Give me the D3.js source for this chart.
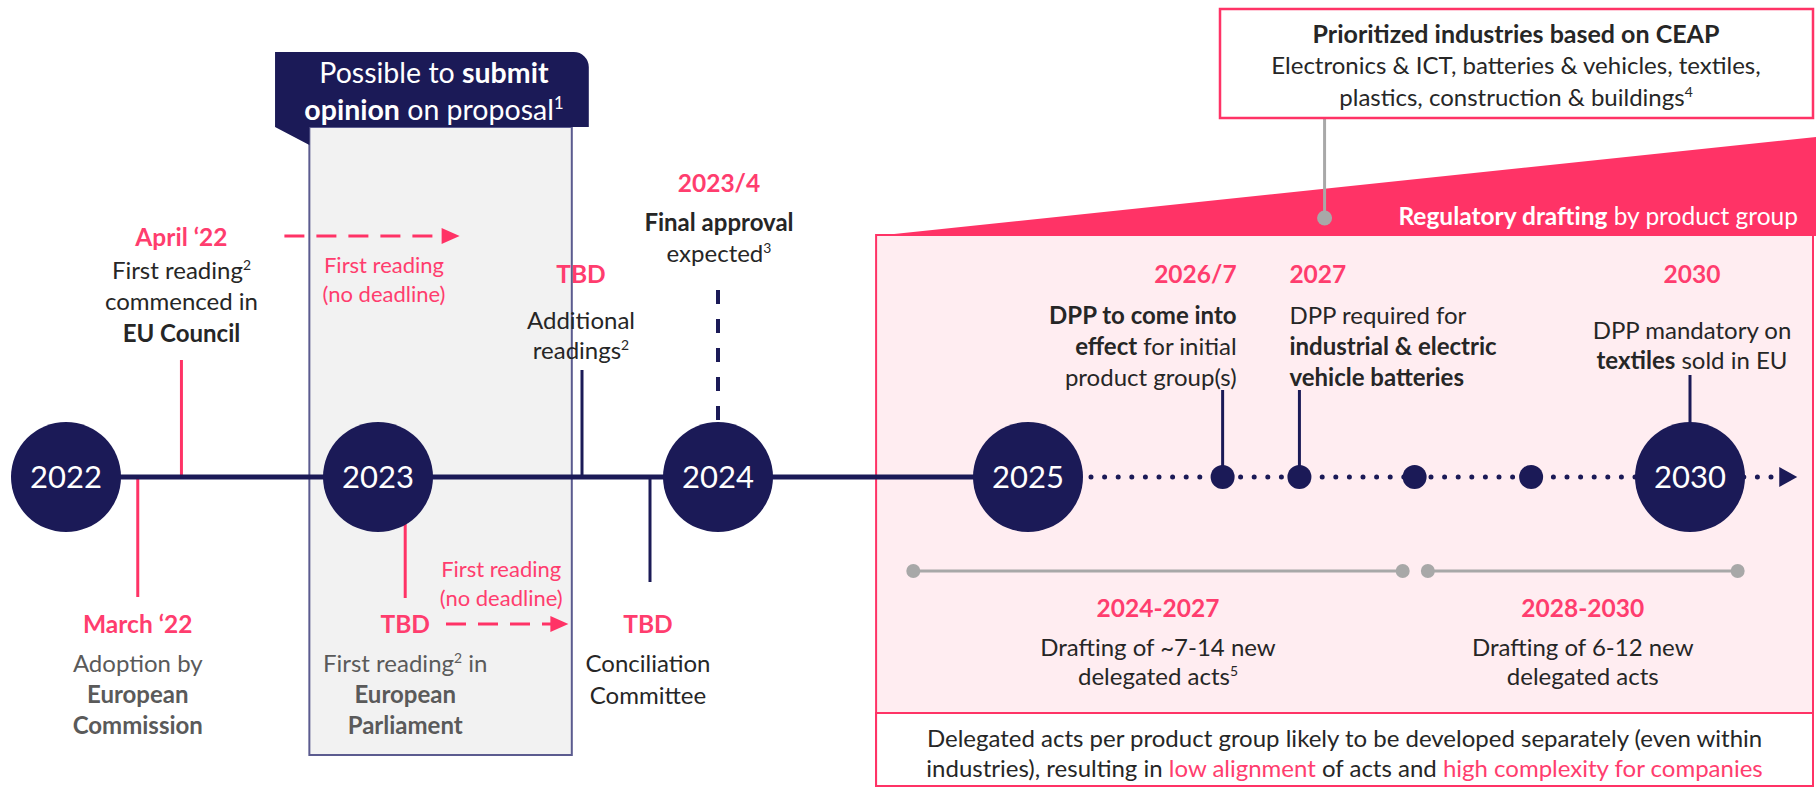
<!DOCTYPE html>
<html><head><meta charset="utf-8">
<script src="https://cdn.jsdelivr.net/npm/d3@7"></script>
<style>
body{margin:0;background:#fff;}
svg{display:block;font-family:Lato,'Open Sans',sans-serif;}
</style>
</head><body>
<svg id="chart" width="1816" height="787"></svg>
<script>
// ---------------- DATA ----------------
const yearTimes  = [2022, 2023, 2024, 2025, 2030];
const yearLabels = ["2022", "2023", "2024", "2025", "2030"];

const milestoneTimes = [2022.23, 2022.37, 2023.08, 2023.60, 2023.80, 2024.0, 2026.47, 2027.05, 2030];
const milestoneDates = ["March ‘22", "April ‘22", "TBD", "TBD", "TBD", "2023/4", "2026/7", "2027", "2030"];
const milestoneText = [
  ["Adoption by", "**European**", "**Commission**"],
  ["First reading^2", "commenced in", "**EU Council**"],
  ["First reading^2 in", "**European**", "**Parliament**"],
  ["Additional", "readings^2"],
  ["Conciliation", "Committee"],
  ["**Final approval**", "expected^3"],
  ["**DPP to come into**", "**effect** for initial", "product group(s)"],
  ["DPP required for", "**industrial & electric**", "**vehicle batteries**"],
  ["DPP mandatory on", "**textiles** sold in EU"]
];

const smallDotTimes = [2026.47, 2027.05, 2027.92, 2028.80];

const readingArrows = [[2022.70, 2023.24], [2023.20, 2023.56]];
const readingArrowText = ["First reading", "(no deadline)"];

const opinionWindow = [2022.78, 2023.57];
const opinionHeader = [2022.67, 2023.62];
const opinionText = ["Possible to **submit**", "**opinion** on proposal^1"];

const draftingStart = 2024.51;
const timelineEnd = 2030.81;
const draftingTitle = "**Regulatory drafting** by product group";

const draftingRanges = [[2024.63, 2027.83], [2028.02, 2030.36]];
const rangeLabels = ["2024-2027", "2028-2030"];
const rangeText = [["Drafting of ~7-14 new", "delegated acts^5"], ["Drafting of 6-12 new", "delegated acts"]];

const ceapText = ["**Prioritized industries based on CEAP**", "Electronics & ICT, batteries & vehicles, textiles,", "plastics, construction & buildings^4"];
const ceapLinkTime = 2027.24;

const noteText = ["Delegated acts per product group likely to be developed separately (even within",
  "industries), resulting in {low alignment} of acts and {high complexity for companies}"];

// ---------------- STYLE / LAYOUT ----------------
const NAVY = "#1b1a57", PINK = "#ff3366", PINKT = "#ff3d6e", LPINK = "#ffedf1",
      TXT = "#262626", GTXT = "#5a5a5a", GLINE = "#a8a8a8", GBOX = "#f2f2f2";
const W = 1816, AXIS_Y = 477, R = 55, r = 12;
const BODY = 24, TITLE = 24.5, SMALL = 22;

const x = d3.scaleLinear().domain(yearTimes).range([66, 378, 718, 1028, 1690]);

// per-milestone layout: stem [y1,y2], colour, dashed, anchor, dx, titleY, bodyY, line height, body colour
const mLayout = [
  {s:[AXIS_Y, 597], c:PINK, a:"middle", dx:0, ty:624, by:663, lh:31, bc:GTXT},
  {s:[360, AXIS_Y], c:PINK, a:"middle", dx:0, ty:237, by:270, lh:31.5, bc:TXT},
  {s:[AXIS_Y, 598], c:PINK, a:"middle", dx:0, ty:624, by:663, lh:31, bc:GTXT},
  {s:[370, AXIS_Y], c:NAVY, a:"middle", dx:-1, ty:274, by:320, lh:30, bc:TXT},
  {s:[AXIS_Y, 582], c:NAVY, a:"middle", dx:-2, ty:624, by:663, lh:32, bc:TXT},
  {s:[290, AXIS_Y], c:NAVY, dash:"14 15", a:"middle", dx:1, ty:183, by:222, lh:31, bc:TXT},
  {s:[390, AXIS_Y], c:NAVY, a:"end", dx:14, ty:274, by:315, lh:31, bc:TXT},
  {s:[390, AXIS_Y], c:NAVY, a:"start", dx:-10, ty:274, by:315, lh:31, bc:TXT},
  {s:[375, AXIS_Y], c:NAVY, a:"middle", dx:2, ty:274, by:330, lh:30, bc:TXT}
];

const svg = d3.select("#chart");

// rich text: **bold**, {pink}, ^n superscript
function rich(g, str, o) {
  const t = g.append("text").attr("x", o.x).attr("y", o.y)
    .attr("text-anchor", o.a || "middle").attr("font-size", o.size)
    .attr("fill", o.fill).attr("font-weight", o.w || 400);
  const parts = str.split(/(\*\*[^*]+\*\*|\{[^}]+\}|\^\d)/).filter(s => s);
  let lift = 0;
  parts.forEach(p => {
    const ts = t.append("tspan");
    if (lift) { ts.attr("dy", lift); lift = 0; }
    if (p.startsWith("**")) ts.text(p.slice(2, -2)).attr("font-weight", 700);
    else if (p.startsWith("{")) ts.text(p.slice(1, -1)).attr("fill", o.pink || PINKT);
    else if (p.startsWith("^")) {
      const up = o.size * 0.38;
      ts.text(p.slice(1)).attr("font-size", o.size * 0.58).attr("dy", -up);
      lift = up;
    } else ts.text(p);
  });
  return t;
}
const base = (cy, s) => cy + s * 0.36;

// ---------------- DRAFTING PANEL ----------------
const px0 = x(draftingStart);
const panel = svg.append("g");
panel.append("rect").attr("x", px0).attr("y", 235).attr("width", 1813 - px0).attr("height", 551)
  .attr("fill", LPINK).attr("stroke", PINK).attr("stroke-width", 2);
panel.append("rect").attr("x", px0).attr("y", 713).attr("width", 1813 - px0).attr("height", 73)
  .attr("fill", "#fff").attr("stroke", PINK).attr("stroke-width", 2);
panel.append("path").attr("d", `M${px0 - 1},236 L${W},137 L${W},236 Z`).attr("fill", PINK);
rich(panel, draftingTitle, {x: 1798, y: base(216, 24.5), a: "end", size: 24.5, fill: "#fff"});
noteText.forEach((l, i) => rich(panel, l, {x: (px0 + 1813) / 2, y: base(738 + i * 30.5, BODY), size: BODY, fill: TXT}));

// ---------------- CEAP BOX ----------------
const ceap = svg.append("g");
ceap.append("line").attr("x1", x(ceapLinkTime)).attr("x2", x(ceapLinkTime)).attr("y1", 118).attr("y2", 218)
  .attr("stroke", GLINE).attr("stroke-width", 3);
ceap.append("circle").attr("cx", x(ceapLinkTime)).attr("cy", 218).attr("r", 7.5).attr("fill", GLINE);
ceap.append("rect").attr("x", 1220).attr("y", 9).attr("width", 593).attr("height", 109)
  .attr("fill", "#fff").attr("stroke", PINK).attr("stroke-width", 2.5);
ceapText.forEach((l, i) => rich(ceap, l, {x: 1516, y: base(34 + i * 31.5, i ? BODY : 25), size: i ? BODY : 25, fill: TXT}));

// ---------------- OPINION WINDOW ----------------
const op = svg.append("g");
const ox0 = x(opinionWindow[0]), ox1 = x(opinionWindow[1]);
const hx0 = x(opinionHeader[0]), hx1 = x(opinionHeader[1]);
op.append("rect").attr("x", ox0).attr("y", 127).attr("width", ox1 - ox0).attr("height", 628)
  .attr("fill", GBOX).attr("stroke", "#5b5b8f").attr("stroke-width", 2);
op.append("path").attr("d", `M${hx0},52 H${hx1 - 15} A15,15 0 0 1 ${hx1},67 V127 H${ox0} V145 L${hx0},127 Z`)
  .attr("fill", NAVY);
opinionText.forEach((l, i) => rich(op, l, {x: (hx0 + hx1) / 2 + 2, y: base(73 + i * 37, 28.5), size: 28.5, fill: "#fff"}));

// ---------------- READING ARROWS ----------------
const ra = svg.append("g");
const arrowYs = [236, 624];
const arrowTextY = [[265, 294], [569, 598]];
readingArrows.forEach((d, i) => {
  const x0 = x(d[0]), x1 = x(d[1]), y = arrowYs[i];
  ra.append("line").attr("x1", x0).attr("x2", x1 - 16).attr("y1", y).attr("y2", y)
    .attr("stroke", PINK).attr("stroke-width", 3).attr("stroke-dasharray", "20 12");
  ra.append("path").attr("d", `M${x1 - 18},${y - 8} L${x1},${y} L${x1 - 18},${y + 8} Z`).attr("fill", PINK);
  const cx = i === 0 ? (x0 + x1) / 2 + 12 : (x0 + x1) / 2 - 6;
  readingArrowText.forEach((t, j) => rich(ra, t, {x: cx, y: base(arrowTextY[i][j], SMALL), size: SMALL, fill: PINKT}));
});

// ---------------- STEMS ----------------
const stems = svg.append("g");
milestoneTimes.forEach((t, i) => {
  const L = mLayout[i];
  stems.append("line").attr("x1", x(t)).attr("x2", x(t)).attr("y1", L.s[0]).attr("y2", L.s[1])
    .attr("stroke", L.c).attr("stroke-width", L.dash ? 4 : 3)
    .attr("stroke-dasharray", L.dash || null);
});

// ---------------- TIMELINE ----------------
const tl = svg.append("g");
tl.append("line").attr("x1", x(yearTimes[0])).attr("x2", x(2025)).attr("y1", AXIS_Y).attr("y2", AXIS_Y)
  .attr("stroke", NAVY).attr("stroke-width", 5);
tl.append("line").attr("x1", x(2025) + R + 8).attr("x2", x(timelineEnd) - 20).attr("y1", AXIS_Y).attr("y2", AXIS_Y)
  .attr("stroke", NAVY).attr("stroke-width", 5).attr("stroke-linecap", "round").attr("stroke-dasharray", "0 13.6");
tl.append("path").attr("d", `M${x(timelineEnd) - 18},${AXIS_Y - 10} L${x(timelineEnd)},${AXIS_Y} L${x(timelineEnd) - 18},${AXIS_Y + 10} Z`)
  .attr("fill", NAVY);
tl.selectAll("circle.dot").data(smallDotTimes).join("circle").attr("class", "dot")
  .attr("cx", d => x(d)).attr("cy", AXIS_Y).attr("r", r).attr("fill", NAVY);
const yrs = tl.selectAll("g.yr").data(yearTimes).join("g").attr("class", "yr")
  .attr("transform", d => `translate(${x(d)},${AXIS_Y})`);
yrs.append("circle").attr("r", R).attr("fill", NAVY);
yrs.append("text").attr("text-anchor", "middle").attr("y", 11).attr("font-size", 31).attr("fill", "#fff")
  .text((d, i) => yearLabels[i]);

// ---------------- MILESTONE LABELS ----------------
const lab = svg.append("g");
milestoneTimes.forEach((t, i) => {
  const L = mLayout[i], lx = x(t) + L.dx;
  rich(lab, milestoneDates[i], {x: lx, y: base(L.ty, TITLE), a: L.a, size: TITLE, fill: PINKT, w: 700});
  milestoneText[i].forEach((l, j) => rich(lab, l, {x: lx, y: base(L.by + j * L.lh, BODY), a: L.a, size: BODY, fill: L.bc}));
});

// ---------------- DRAFTING RANGES ----------------
const rg = svg.append("g");
draftingRanges.forEach((d, i) => {
  rg.append("line").attr("x1", x(d[0])).attr("x2", x(d[1])).attr("y1", 571).attr("y2", 571)
    .attr("stroke", GLINE).attr("stroke-width", 3);
  d.forEach(v => rg.append("circle").attr("cx", x(v)).attr("cy", 571).attr("r", 7).attr("fill", GLINE));
  const cx = (x(d[0]) + x(d[1])) / 2;
  rich(rg, rangeLabels[i], {x: cx, y: base(608, TITLE), size: TITLE, fill: PINKT, w: 700});
  rangeText[i].forEach((l, j) => rich(rg, l, {x: cx, y: base(647 + j * 29, BODY), size: BODY, fill: TXT}));
});
</script>
</body></html>
